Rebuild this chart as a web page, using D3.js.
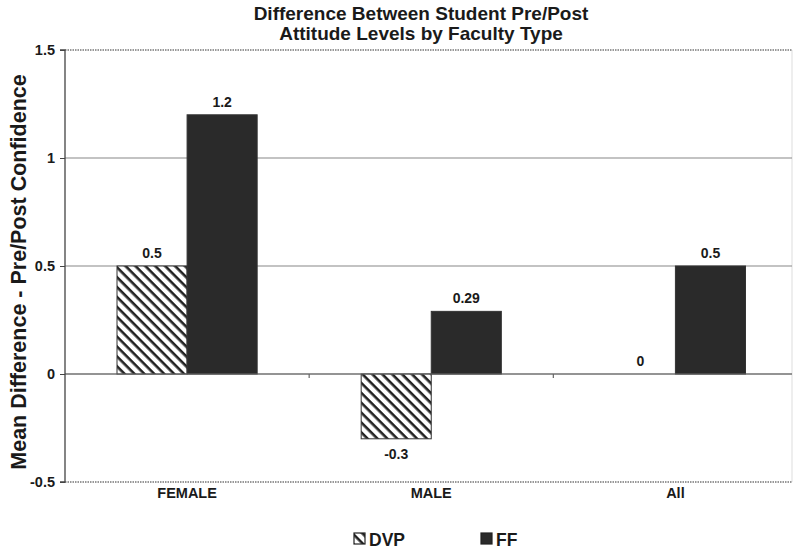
<!DOCTYPE html>
<html>
<head>
<meta charset="utf-8">
<script src="https://cdn.jsdelivr.net/npm/d3@7"></script>
<style>
  body { margin: 0; background: #fff; }
  svg { display: block; font-family: "Liberation Sans", Arial, sans-serif; }
</style>
</head>
<body>
<svg id="chart" width="794" height="552"></svg>
<script>
// Mean pre/post difference by student group and faculty type
const categories = ["FEMALE", "MALE", "All"];
const seriesNames = ["DVP", "FF"];
const dvpValues = [0.5, -0.3, 0];
const ffValues = [1.2, 0.29, 0.5];
const yTicks = [-0.5, 0, 0.5, 1, 1.5];
const yTickLabels = ["-0.5", "0", "0.5", "1", "1.5"];
const valueLabels = [["0.5", "-0.3", "0"], ["1.2", "0.29", "0.5"]];

const svg = d3.select("#chart");
const plotLeft = 65, plotRight = 792, plotTop = 50, plotBottom = 482;

const x = d3.scaleBand().domain(categories).range([plotLeft, 797.5])
  .paddingInner(0.426).paddingOuter(0.213);
const xs = d3.scaleBand().domain(seriesNames).range([0, x.bandwidth()]);
const y = d3.scaleLinear().domain([-0.5, 1.5]).range([plotBottom, plotTop]);

// diagonal hatch fill for DVP
const defs = svg.append("defs");
const pat = defs.append("pattern")
  .attr("id", "hatch").attr("patternUnits", "userSpaceOnUse")
  .attr("width", 7).attr("height", 7)
  .attr("patternTransform", "rotate(45)");
pat.append("rect").attr("width", 7).attr("height", 7).attr("fill", "#fff");
pat.append("rect").attr("x", 0).attr("y", 0).attr("width", 7).attr("height", 2.6).attr("fill", "#222");

const fills = { DVP: "url(#hatch)", FF: "#2a2a2a" };

// plot frame and grid
const g = svg.append("g");
g.append("line").attr("x1", plotRight).attr("x2", plotRight).attr("y1", plotTop).attr("y2", plotBottom)
  .attr("stroke", "#ddd").attr("stroke-width", 1);
yTicks.forEach(t => {
  const edge = (t === 1.5 || t === -0.5);
  g.append("line")
    .attr("x1", plotLeft).attr("x2", plotRight)
    .attr("y1", y(t)).attr("y2", y(t))
    .attr("stroke", edge ? "#777" : "#888")
    .attr("stroke-width", edge ? 1.3 : 1.2)
    .attr("stroke-dasharray", edge ? "1.5,1" : null);
});

// bars
const data = [];
categories.forEach((c, i) => {
  data.push({ cat: c, s: "DVP", v: dvpValues[i], label: valueLabels[0][i] });
  data.push({ cat: c, s: "FF", v: ffValues[i], label: valueLabels[1][i] });
});

g.selectAll("rect.bar").data(data.filter(d => d.v !== 0)).join("rect")
  .attr("class", "bar")
  .attr("x", d => x(d.cat) + xs(d.s))
  .attr("width", xs.bandwidth())
  .attr("y", d => y(Math.max(0, d.v)))
  .attr("height", d => Math.abs(y(d.v) - y(0)))
  .attr("fill", d => fills[d.s])
  .attr("stroke", "#333").attr("stroke-width", 1);

// zero line with category separators
g.append("line").attr("x1", plotLeft).attr("x2", plotRight).attr("y1", y(0)).attr("y2", y(0))
  .attr("stroke", "#666").attr("stroke-width", 1.2);
categories.forEach((c, i) => {
  if (i === 0) return;
  const sx = (x(categories[i - 1]) + x.bandwidth() + x(c)) / 2;
  g.append("line").attr("x1", sx).attr("x2", sx).attr("y1", y(0)).attr("y2", y(0) + 4)
    .attr("stroke", "#666").attr("stroke-width", 1.2);
});

// value labels
g.selectAll("text.val").data(data).join("text")
  .attr("class", "val")
  .attr("x", d => x(d.cat) + xs(d.s) + xs.bandwidth() / 2)
  .attr("y", d => d.v < 0 ? y(d.v) + 20 : y(d.v) - 8)
  .attr("text-anchor", "middle")
  .attr("font-size", 14).attr("font-weight", "bold").attr("fill", "#1a1a1a")
  .text(d => d.label);

// y axis
const yAxis = d3.axisLeft(y).tickValues(yTicks).tickSize(5)
  .tickFormat((d, i) => yTickLabels[i]);
const ya = svg.append("g").attr("transform", `translate(${plotLeft},0)`).call(yAxis);
ya.select(".domain").attr("stroke", "#444").attr("stroke-width", 1.3).attr("d", `M-5,${plotTop}H0V${plotBottom}H-5`);
ya.selectAll(".tick line").attr("stroke", "#444");
ya.selectAll(".tick text").attr("font-size", 14.5).attr("font-weight", "bold")
  .attr("fill", "#1a1a1a").attr("x", -10).attr("font-family", "Liberation Sans, Arial, sans-serif");

// x axis labels
const xAxis = d3.axisBottom(x).tickSize(0).tickPadding(6);
const xa = svg.append("g").attr("transform", `translate(0,${plotBottom})`).call(xAxis);
xa.select(".domain").remove();
xa.selectAll(".tick text").attr("font-size", 14.5).attr("font-weight", "bold")
  .attr("fill", "#1a1a1a").attr("font-family", "Liberation Sans, Arial, sans-serif");

// title
const title = svg.append("text").attr("x", 421).attr("text-anchor", "middle")
  .attr("font-size", 19).attr("font-weight", "bold").attr("fill", "#1a1a1a");
title.append("tspan").attr("x", 421).attr("y", 20).text("Difference Between Student Pre/Post");
title.append("tspan").attr("x", 421).attr("y", 40).text("Attitude Levels by Faculty Type");

// y axis title
svg.append("text")
  .attr("transform", `translate(26,272) rotate(-90)`)
  .attr("text-anchor", "middle")
  .attr("font-size", 21.5).attr("font-weight", "bold").attr("fill", "#1a1a1a")
  .text("Mean Difference - Pre/Post Confidence");

// legend
const legendX = [354, 481];
seriesNames.forEach((s, i) => {
  const lg = svg.append("g").attr("transform", `translate(${legendX[i]},533)`);
  lg.append("rect").attr("width", 11).attr("height", 11)
    .attr("fill", fills[s]).attr("stroke", "#222").attr("stroke-width", 1.2);
  lg.append("text").attr("x", 15).attr("y", 12.5)
    .attr("font-size", 17.5).attr("font-weight", "bold").attr("fill", "#1a1a1a").text(s);
});
</script>
</body>
</html>
